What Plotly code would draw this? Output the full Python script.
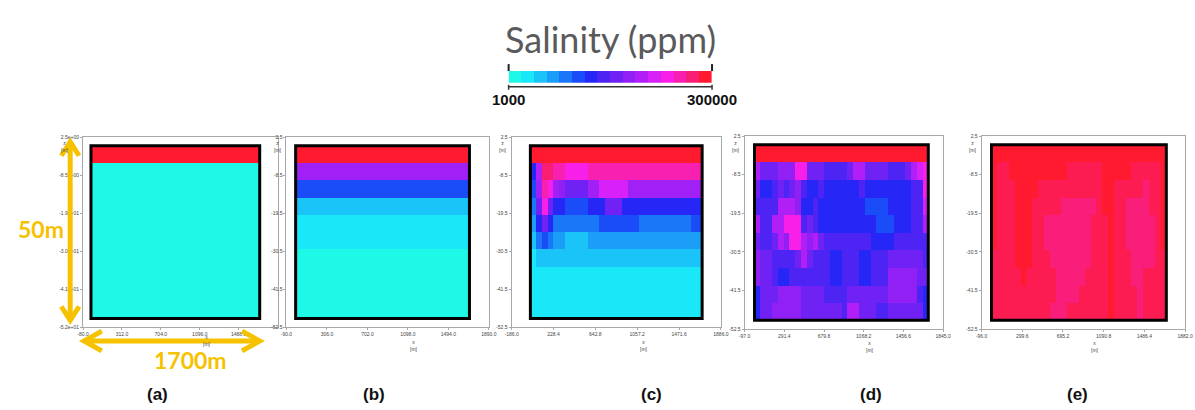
import numpy as np
import plotly.graph_objects as go

W, H = 1195, 410

# ---------------- data (salinity, thousands of ppm) ----------------
colorbar_levels = [1, 21, 41, 61, 81, 101, 121, 141, 160, 180, 200, 220, 240, 260, 280, 300]
colorbar_colors = ["#1EF8E6", "#1AE8F8", "#1AC4F8", "#1A9EF8", "#1A78F8", "#1A4CF8", "#2626F6", "#4E24F4",
                   "#7022F4", "#9020F4", "#B020F6", "#D820F8", "#F820E8", "#F820B0", "#F81E74", "#FF1A30"]
colorbar_ticktext = ["1000", "300000"]
colorbar_title = "Salinity (ppm)"
panel_labels = ["(a)", "(b)", "(c)", "(d)", "(e)"]

profile_a = [300, 1, 1, 1, 1, 1, 1, 1, 1, 1]
profile_b = [300, 190, 101, 41, 21, 21, 1, 1, 1, 1]

grid_c = [
    [300, 300, 300, 300, 300, 300, 300, 300, 300, 300, 300, 300, 300, 300, 300, 300, 300, 300, 300, 300, 300, 300, 300, 300, 300, 300, 300, 300, 300, 300],
    [121, 200, 280, 280, 260, 260, 240, 240, 240, 240, 260, 260, 260, 260, 260, 260, 260, 260, 260, 260, 260, 260, 260, 260, 260, 260, 260, 260, 260, 260],
    [101, 190, 260, 240, 190, 180, 160, 160, 160, 160, 190, 190, 220, 220, 220, 220, 220, 190, 190, 190, 190, 190, 190, 190, 190, 190, 190, 190, 190, 190],
    [81, 160, 240, 160, 121, 121, 101, 101, 101, 101, 121, 121, 121, 160, 160, 160, 121, 121, 121, 121, 121, 121, 121, 121, 121, 121, 121, 121, 121, 121],
    [61, 121, 160, 121, 81, 81, 81, 81, 81, 81, 81, 81, 101, 101, 101, 101, 101, 101, 101, 81, 81, 81, 81, 81, 81, 81, 81, 81, 101, 101],
    [41, 81, 101, 81, 61, 61, 41, 41, 41, 41, 61, 61, 61, 61, 61, 61, 61, 61, 61, 61, 61, 61, 61, 61, 61, 61, 61, 61, 61, 61],
    [21, 41, 41, 41, 41, 41, 41, 41, 41, 41, 41, 41, 41, 41, 41, 41, 41, 41, 41, 41, 41, 41, 41, 41, 41, 41, 41, 41, 41, 41],
    [21, 21, 21, 21, 21, 21, 21, 21, 21, 21, 21, 21, 21, 21, 21, 21, 21, 21, 21, 21, 21, 21, 21, 21, 21, 21, 21, 21, 21, 21],
    [21, 21, 21, 21, 21, 21, 21, 21, 21, 21, 21, 21, 21, 21, 21, 21, 21, 21, 21, 21, 21, 21, 21, 21, 21, 21, 21, 21, 21, 21],
    [21, 21, 21, 21, 21, 21, 21, 21, 21, 21, 21, 21, 21, 21, 21, 21, 21, 21, 21, 21, 21, 21, 21, 21, 21, 21, 21, 21, 21, 21],
]

grid_d = [
    [300, 300, 300, 300, 300, 300, 300, 300, 300, 300, 300, 300, 300, 300, 300, 300, 300, 300, 300, 300, 300, 300, 300, 300, 300, 300, 300, 300, 300, 300],
    [200, 160, 160, 160, 180, 180, 180, 240, 240, 160, 160, 160, 141, 141, 141, 141, 160, 200, 200, 160, 160, 160, 160, 141, 141, 141, 160, 200, 220, 240],
    [160, 121, 121, 141, 160, 141, 160, 180, 141, 121, 121, 141, 121, 121, 121, 121, 121, 121, 141, 121, 121, 121, 121, 121, 121, 121, 121, 141, 141, 240],
    [141, 141, 141, 141, 200, 200, 200, 180, 121, 121, 141, 121, 121, 121, 121, 121, 121, 121, 121, 101, 101, 101, 101, 121, 121, 121, 121, 141, 141, 220],
    [200, 141, 141, 200, 200, 240, 240, 240, 141, 160, 141, 121, 121, 121, 121, 121, 121, 121, 121, 121, 121, 101, 101, 101, 121, 121, 121, 141, 141, 200],
    [160, 141, 141, 160, 200, 180, 240, 240, 200, 180, 200, 160, 141, 141, 141, 141, 141, 141, 141, 141, 121, 121, 121, 121, 141, 141, 141, 141, 141, 141],
    [180, 160, 160, 141, 141, 141, 141, 160, 200, 160, 141, 141, 141, 121, 121, 141, 141, 141, 121, 121, 141, 141, 141, 160, 160, 160, 160, 160, 160, 141],
    [180, 160, 160, 141, 121, 121, 141, 141, 141, 141, 141, 141, 141, 121, 121, 141, 141, 141, 121, 121, 141, 141, 141, 180, 180, 180, 180, 180, 160, 160],
    [121, 160, 160, 160, 180, 180, 180, 180, 160, 160, 160, 160, 141, 141, 141, 141, 160, 160, 160, 160, 160, 160, 160, 180, 180, 180, 180, 180, 141, 121],
    [121, 160, 160, 180, 180, 180, 180, 180, 160, 160, 160, 160, 160, 160, 160, 141, 200, 200, 160, 160, 160, 141, 141, 160, 160, 160, 160, 160, 160, 121],
]

grid_e = [
    [300, 300, 300, 300, 300, 300, 300, 300, 300, 300, 300, 300, 300, 300, 300, 300, 300, 300, 300, 300, 300, 300, 300, 300, 300, 300, 300, 300, 300, 300],
    [300, 290, 290, 300, 300, 300, 300, 300, 300, 300, 300, 300, 300, 290, 290, 290, 290, 290, 290, 300, 300, 300, 300, 300, 290, 290, 290, 290, 290, 300],
    [300, 290, 290, 290, 300, 300, 300, 300, 290, 290, 290, 290, 290, 290, 290, 290, 290, 290, 290, 300, 300, 290, 290, 290, 290, 290, 278, 290, 290, 300],
    [300, 290, 290, 290, 300, 300, 300, 290, 290, 290, 290, 290, 278, 278, 278, 278, 278, 278, 290, 300, 300, 290, 290, 278, 278, 278, 278, 290, 290, 300],
    [300, 290, 290, 290, 300, 300, 300, 290, 290, 278, 278, 278, 278, 278, 278, 278, 278, 290, 290, 290, 300, 290, 290, 278, 278, 278, 278, 278, 290, 300],
    [300, 290, 290, 290, 300, 300, 300, 290, 290, 278, 278, 278, 278, 278, 278, 278, 278, 290, 290, 290, 300, 290, 290, 278, 278, 278, 278, 278, 290, 300],
    [290, 290, 290, 290, 300, 300, 300, 290, 290, 290, 278, 278, 278, 278, 278, 278, 278, 290, 290, 290, 300, 290, 290, 290, 278, 278, 278, 278, 290, 290],
    [290, 290, 290, 290, 290, 300, 290, 290, 290, 290, 290, 278, 278, 278, 278, 278, 290, 290, 290, 290, 300, 290, 290, 290, 278, 278, 290, 290, 290, 290],
    [290, 290, 290, 290, 290, 290, 290, 290, 290, 290, 290, 278, 278, 278, 278, 290, 290, 290, 290, 290, 300, 290, 290, 290, 290, 278, 290, 290, 290, 290],
    [290, 290, 290, 290, 290, 290, 290, 290, 290, 290, 278, 278, 278, 290, 290, 290, 290, 290, 290, 290, 300, 290, 290, 290, 290, 278, 290, 290, 290, 290],
]

# model mesh (m)
x_edges = np.linspace(0, 1700, 31)
y_edges = np.linspace(0, -50, 11)
domain_width, domain_depth = 1700, 50

# ---------------- layout geometry (pixels) ----------------
def px(x):
    return x / W

def py(y):
    return 1 - y / H

panels = [
    dict(l=77, r=274, t=136, b=329, xr=[-80.0, 1880.0], nxt=5, xl=203, xly=334),
    dict(l=283, r=488, t=136, b=329, xr=[-90.0, 1890.0], nxt=6, xl=412, xly=339),
    dict(l=511, r=723, t=136, b=329, xr=[-186.0, 1886.0], nxt=6, xl=645, xly=339),
    dict(l=747, r=948, t=135, b=331, xr=[-97.0, 1845.0], nxt=6, xl=874, xly=340),
    dict(l=987, r=1193, t=135, b=331, xr=[-96.0, 1882.0], nxt=6, xl=1102, xly=340),
]
y_range = [-52.5, 2.5]
y_ticks = [2.5, -8.5, -19.5, -30.5, -41.5, -52.5]
y_ticktext_sci = ["2.5e+00", "-8.5e+00", "-1.9e+01", "-3.0e+01", "-4.1e+01", "-5.2e+01"]
y_ticktext = ["2.5", "-8.5", "-19.5", "-30.5", "-41.5", "-52.5"]

colorscale = [[(v - colorbar_levels[0]) / (colorbar_levels[-1] - colorbar_levels[0]), c]
              for v, c in zip(colorbar_levels, colorbar_colors)]
zmin, zmax = colorbar_levels[0], colorbar_levels[-1]

fig = go.Figure()

panel_data = [
    ([[v] for v in profile_a], [0, domain_width]),
    ([[v] for v in profile_b], [0, domain_width]),
    (grid_c, x_edges),
    (grid_d, x_edges),
    (grid_e, x_edges),
]

layout = {}
shapes = []
annotations = []
tick_font = dict(size=5, color="#444", family="Liberation Sans, Arial")

for i, ((z, xe), p) in enumerate(zip(panel_data, panels)):
    n = i + 1
    sx = "" if n == 1 else str(n)
    fig.add_trace(go.Heatmap(
        z=z, x=list(xe), y=list(y_edges), colorscale=colorscale, zmin=zmin, zmax=zmax,
        showscale=False, hoverinfo="skip", xaxis="x" + sx, yaxis="y" + sx,
    ))
    xt = list(np.linspace(p["xr"][0], p["xr"][1], 6))[:p["nxt"]]
    layout["xaxis" + sx] = dict(
        domain=[px(p["l"]), px(p["r"])], range=p["xr"], anchor="y" + sx,
        showline=True, linecolor="#A8A8A8", linewidth=1, mirror=True,
        ticks="outside", ticklen=2, tickcolor="#A8A8A8",
        tickvals=xt, ticktext=["%.1f" % v for v in xt], tickfont=tick_font,
        showgrid=False, zeroline=False, fixedrange=True,
    )
    layout["yaxis" + sx] = dict(
        domain=[py(p["b"]), py(p["t"])], range=y_range, anchor="x" + sx,
        showline=True, linecolor="#A8A8A8", linewidth=1, mirror=True,
        ticks="outside", ticklen=2, tickcolor="#A8A8A8",
        tickvals=y_ticks, ticktext=y_ticktext_sci if n == 1 else y_ticktext, tickfont=tick_font,
        showgrid=False, zeroline=False, fixedrange=True,
    )
    shapes.append(dict(type="rect", xref="x" + sx, yref="y" + sx, x0=0, x1=domain_width,
                       y0=-domain_depth, y1=0, line=dict(color="black", width=3), layer="above"))
    zx = p["l"] - (18 if n == 1 else 9)
    annotations.append(dict(x=px(zx), y=py(137), xref="paper", yref="paper", text="z<br>[m]",
                            showarrow=False, xanchor="center", yanchor="top",
                            font=dict(size=5, color="#444", family="Liberation Sans, Arial")))
    annotations.append(dict(x=px(p["xl"]), y=py(p["xly"]), xref="paper", yref="paper", text="x<br>[m]",
                            showarrow=False, xanchor="center", yanchor="top",
                            font=dict(size=5, color="#444", family="Liberation Sans, Arial")))

# colour bar as discrete strip
fig.add_trace(go.Heatmap(
    z=[colorbar_levels], x=list(range(len(colorbar_levels) + 1)), y=[0, 1],
    colorscale=colorscale, zmin=zmin, zmax=zmax, showscale=False, hoverinfo="skip",
    xaxis="x6", yaxis="y6",
))
layout["xaxis6"] = dict(domain=[px(508), px(714)], range=[0, len(colorbar_levels)], visible=False,
                        anchor="y6", fixedrange=True)
layout["yaxis6"] = dict(domain=[py(81), py(69)], range=[0, 1], visible=False, anchor="x6", fixedrange=True)

for xx in (508, 714):
    shapes.append(dict(type="line", xref="paper", yref="paper", x0=px(xx), x1=px(xx),
                       y0=py(62), y1=py(69), line=dict(color="#222", width=2)))
    shapes.append(dict(type="line", xref="paper", yref="paper", x0=px(xx), x1=px(xx),
                       y0=py(83), y1=py(88), line=dict(color="#333", width=1.5)))
shapes.append(dict(type="line", xref="paper", yref="paper", x0=px(508), x1=px(714),
                   y0=py(85), y1=py(85), line=dict(color="#333", width=1.5)))

annotations.append(dict(x=px(611), y=py(37), xref="paper", yref="paper", text=colorbar_title,
                        showarrow=False, xanchor="center", yanchor="middle",
                        font=dict(size=36, color="#5A5A5C", family="Lato")))
annotations.append(dict(x=px(508), y=py(98), xref="paper", yref="paper", text="<b>%s</b>" % colorbar_ticktext[0],
                        showarrow=False, xanchor="center", yanchor="middle",
                        font=dict(size=15, color="#111", family="Liberation Sans, Arial")))
annotations.append(dict(x=px(714), y=py(98), xref="paper", yref="paper", text="<b>%s</b>" % colorbar_ticktext[1],
                        showarrow=False, xanchor="center", yanchor="middle",
                        font=dict(size=15, color="#111", family="Liberation Sans, Arial")))

# yellow dimension arrows
gold = "#F6C200"
shapes.append(dict(type="line", xref="paper", yref="paper", x0=px(64), x1=px(64), y0=py(142), y1=py(321),
                   line=dict(color=gold, width=5)))
shapes.append(dict(type="path", xref="paper", yref="paper",
                   path="M %f,%f L %f,%f L %f,%f" % (px(55), py(155), px(64), py(141), px(73), py(155)),
                   line=dict(color=gold, width=5)))
shapes.append(dict(type="path", xref="paper", yref="paper",
                   path="M %f,%f L %f,%f L %f,%f" % (px(55), py(308), px(64), py(322), px(73), py(308)),
                   line=dict(color=gold, width=5)))
shapes.append(dict(type="line", xref="paper", yref="paper", x0=px(79), x1=px(255), y0=py(343), y1=py(343),
                   line=dict(color=gold, width=5)))
shapes.append(dict(type="path", xref="paper", yref="paper",
                   path="M %f,%f L %f,%f L %f,%f" % (px(96), py(333), px(78), py(343), px(96), py(353)),
                   line=dict(color=gold, width=5)))
shapes.append(dict(type="path", xref="paper", yref="paper",
                   path="M %f,%f L %f,%f L %f,%f" % (px(238), py(333), px(256), py(343), px(238), py(353)),
                   line=dict(color=gold, width=5)))
annotations.append(dict(x=px(34), y=py(229), xref="paper", yref="paper", text="<b>50m</b>",
                        showarrow=False, xanchor="center", yanchor="middle",
                        font=dict(size=23, color=gold, family="Lato")))
annotations.append(dict(x=px(186), y=py(362), xref="paper", yref="paper", text="<b>1700m</b>",
                        showarrow=False, xanchor="center", yanchor="middle",
                        font=dict(size=23, color=gold, family="Lato")))

for lab, xc in zip(panel_labels, [152, 372, 653, 875, 1084]):
    annotations.append(dict(x=px(xc), y=py(397), xref="paper", yref="paper", text="<b>%s</b>" % lab,
                            showarrow=False, xanchor="center", yanchor="middle",
                            font=dict(size=17, color="#111", family="Liberation Sans, Arial")))

fig.update_layout(
    width=W, height=H, margin=dict(l=0, r=0, t=0, b=0),
    paper_bgcolor="white", plot_bgcolor="white", showlegend=False,
    shapes=shapes, annotations=annotations, **layout,
)

fig.write_html("out.html", config={"displayModeBar": False})
